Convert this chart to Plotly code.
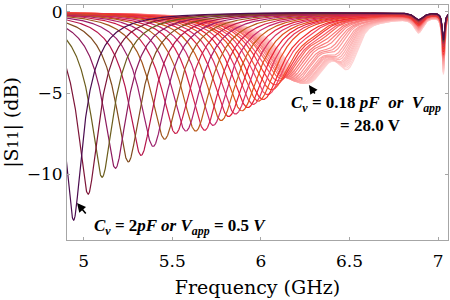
import numpy as np
import plotly.graph_objects as go

# resonance frequency (GHz), depth (dB) and quality factor of each curve
res_freq = [4.943, 5.025, 5.104, 5.179, 5.252, 5.324, 5.392, 5.457, 5.519, 5.577,
            5.632, 5.683, 5.731, 5.776, 5.818, 5.857, 5.893, 5.926, 5.957, 5.986,
            6.013, 6.038, 6.061, 6.082, 6.101, 6.118, 6.133, 6.147, 6.160, 6.172,
            6.183, 6.193, 6.202, 6.210, 6.217, 6.224, 6.230, 6.236, 6.241, 6.246,
            6.250, 6.254, 6.258, 6.261, 6.264]
res_depth = [-12.85, -11.25, -10.2, -9.65, -9.25, -8.85, -8.3, -7.85, -7.5, -7.35,
             -7.35, -7.3, -7.0, -6.7, -6.45, -6.3, -6.1, -5.9, -5.7, -5.5,
             -5.4, -5.1, -4.8, -4.5, -4.25, -4.1, -4.05, -4.05, -4.1, -4.15,
             -4.2, -4.25, -4.3, -4.3, -4.35, -4.35, -4.4, -4.4, -4.4, -4.4,
             -4.4, -4.4, -4.4, -4.4, -4.4]
res_q = [17, 17, 17, 17, 17, 17, 17, 17, 17, 17,
         17, 17, 17, 17, 17, 17, 17, 17, 17, 17,
         16.5, 16.5, 16, 16, 15.5, 15.5, 15, 15, 15, 14.5,
         14.5, 14.5, 14, 14, 14, 14, 14, 14, 14, 14,
         14, 14, 14, 14, 14]
# depth (dB) of the sharp notch near 7.03 GHz for each curve
notch_depth = [1.7, 1.7, 1.75, 1.75, 1.8, 1.8, 1.85, 1.85, 1.9, 1.9, 1.95, 1.95, 2.0, 2.0, 2.05,
               2.1, 2.15, 2.2, 2.25, 2.3, 2.35, 2.4, 2.45, 2.5, 2.55, 2.6, 2.65, 2.7, 2.75, 2.8,
               2.85, 2.9, 2.95, 3.0, 3.05, 3.1, 3.15, 3.2, 3.25, 3.3, 3.35, 3.4, 3.45, 3.5, 3.6]
# secondary shoulder depth (dB) of each curve, about 0.23 GHz above its resonance
shoulder_depth = [0] * 20 + [0.1, 0.15, 0.2, 0.25, 0.3, 0.35, 0.4, 0.5, 0.6, 0.7,
                             0.8, 0.9, 1.0, 1.1, 1.2, 1.3, 1.4, 1.45, 1.5, 1.55,
                             1.6, 1.65, 1.7, 1.8, 1.9]
x_ticks = [5, 5.5, 6, 6.5, 7]
x_tick_labels = ["5", "5.5", "6", "6.5", "7"]
y_ticks = [0, -5, -10]
y_tick_labels = ["0", "\u22125", "\u221210"]

colors = ["#4b0c4f", "#7d1538", "#6b5d1c", "#8c1a5e", "#7f4a1e", "#b3154a",
          "#9a1f6b", "#a0561c", "#c81e4a", "#b0206a", "#b85a1a", "#d4204a",
          "#c8286a", "#cc5a1a", "#e0203c", "#d83060", "#e0501c", "#ea2030",
          "#e63a58", "#ec4a20", "#f02828", "#f24660", "#f25030", "#f53a3a",
          "#f65a68", "#f76a5a", "#f87070", "#f97a7a", "#fa8484", "#fa8c8c",
          "#fb9494", "#fb9a9a", "#fca0a0", "#fca6a6", "#fcacac", "#fdb2b2",
          "#fdb7b7", "#fdbcbc", "#fdc0c0", "#fec4c4", "#fec8c8", "#fecbcb",
          "#fecece", "#fed1d1", "#fed4d4"]

freq = np.linspace(4.9, 7.06, 1600)

fig = go.Figure()
order = list(range(len(res_freq)))[::-1]
for i in order:
    f0, d, q = res_freq[i], res_depth[i], res_q[i]
    a = 1 - 10 ** (d / 10)
    lor = a / (1 + (2 * q * (freq - f0) / f0) ** 2)
    db = 10 * np.log10(1 - lor)
    db -= notch_depth[i] / (1 + ((freq - 7.03) / 0.0075) ** 2)
    db -= 0.27 * notch_depth[i] / (1 + ((freq - 6.89) / 0.03) ** 2)
    db -= shoulder_depth[i] * np.exp(-((freq - f0 - 0.23) / 0.07) ** 2)
    fig.add_trace(go.Scatter(x=freq, y=db, mode="lines",
                             line=dict(color=colors[i], width=1.2),
                             showlegend=False, hoverinfo="skip"))

ann_font = dict(family="Liberation Serif", size=17, color="black")
fig.add_annotation(x=5.049, y=-13.27, xanchor="left", yanchor="middle", showarrow=False,
                   text="<b><i>C</i><sub><i>v</i></sub> = 2<i>pF or V</i><sub><i>app</i></sub> = 0.5 <i>V</i></b>",
                   font=ann_font)
fig.add_annotation(x=4.9625, y=-11.79, ax=10, ay=12, text="", showarrow=True,
                   arrowhead=2, arrowsize=1.1, arrowwidth=1.6, arrowcolor="black")
fig.add_annotation(x=6.156, y=-5.68, xanchor="left", yanchor="middle", showarrow=False,
                   text="<b><i>C</i><sub><i>v</i></sub> = 0.18 <i>pF</i>\u2002<i>or</i>\u2002<i>V</i><sub><i>app</i></sub></b>",
                   font=ann_font)
fig.add_annotation(x=6.62, y=-6.98, xanchor="center", yanchor="middle", showarrow=False,
                   text="<b>= 28.0 V</b>", font=ann_font)
fig.add_annotation(x=6.271, y=-4.51, ax=7, ay=10, text="", showarrow=True,
                   arrowhead=2, arrowsize=1.1, arrowwidth=1.6, arrowcolor="black")

axis_common = dict(showgrid=False, zeroline=False, showline=True, linecolor="#a6a6a6",
                   linewidth=1, mirror="ticks", ticks="inside", ticklen=3, automargin=False,
                   tickcolor="#a6a6a6", tickfont=dict(family="DejaVu Serif", size=17, color="black"))
fig.update_xaxes(range=[4.906, 7.056], tickvals=x_ticks, ticktext=x_tick_labels,
                 ticklabelstandoff=6,
                 title=dict(text="Frequency (GHz)", font=dict(family="DejaVu Serif", size=19, color="black"),
                            standoff=10),
                 **axis_common)
fig.update_yaxes(range=[-14.07, 0.43], tickvals=y_ticks, ticktext=y_tick_labels,
                 title=dict(text="|S<span style='font-size:14px'>11</span>| (dB)",
                            font=dict(family="DejaVu Serif", size=19, color="black"), standoff=7),
                 **axis_common)
fig.update_layout(width=450, height=300, margin=dict(l=67, r=2, t=5, b=60),
                  plot_bgcolor="white", paper_bgcolor="white")
fig.write_html("out.html", config={"displayModeBar": False},
               post_script="document.body.style.margin='0px';")
